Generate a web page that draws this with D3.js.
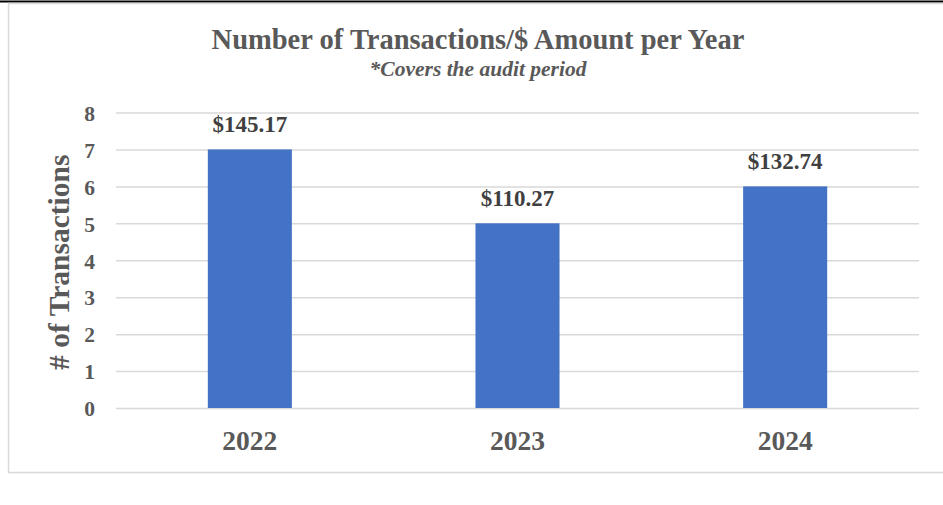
<!DOCTYPE html>
<html>
<head>
<meta charset="utf-8">
<script src="https://cdn.jsdelivr.net/npm/d3@7"></script>
<style>
  body { margin: 0; background: #fff; }
  svg { display: block; font-family: "Liberation Serif", "Times New Roman", serif; }
</style>
</head>
<body>
<div id="chart"></div>
<script>
var years = ["2022", "2023", "2024"];
var transactions = [7, 5, 6];
var amounts = ["$145.17", "$110.27", "$132.74"];
var yTicks = [0, 1, 2, 3, 4, 5, 6, 7, 8];

var width = 943, height = 505;
var margin = {top: 112.5, right: 24, bottom: 97, left: 116};
var serif = '"Liberation Serif", "Times New Roman", serif';

var svg = d3.select("#chart").append("svg")
    .attr("width", width)
    .attr("height", height);

// cropped line of page text above the chart
svg.append("line")
    .attr("x1", 0).attr("x2", width)
    .attr("y1", 1.5).attr("y2", 1.5)
    .attr("stroke", "#000")
    .attr("stroke-width", 2);

// chart frame
svg.append("rect")
    .attr("x", 8.5).attr("y", 3.5)
    .attr("width", width)
    .attr("height", 469)
    .attr("fill", "none")
    .attr("stroke", "#d9d9d9")
    .attr("stroke-width", 1.5);

var x = d3.scaleBand()
    .domain(years)
    .range([margin.left, width - margin.right])
    .paddingInner(0.686)
    .paddingOuter(0.343);

var y = d3.scaleLinear()
    .domain([0, 8])
    .range([height - margin.bottom, margin.top]);

// gridlines + tick labels
var yAxis = d3.axisLeft(y)
    .tickValues(yTicks)
    .tickSize(-(width - margin.right - margin.left))
    .tickFormat(d => d)
    .tickPadding(21);

var gy = svg.append("g")
    .attr("class", "axis yAxis")
    .attr("transform", `translate(${margin.left}, 0)`)
    .call(yAxis)
    .attr("font-family", serif);

gy.select(".domain").remove();
gy.selectAll(".tick line")
    .attr("stroke", "#d9d9d9")
    .attr("stroke-width", 1.5);
gy.selectAll(".tick text")
    .attr("fill", "#595959")
    .style("font-size", "21.5px")
    .style("font-weight", "bold")
    .attr("dy", "0.36em");

// bars
svg.selectAll("rect.bar")
    .data(years)
    .enter()
    .append("rect")
    .attr("class", "bar")
    .attr("x", d => x(d))
    .attr("width", x.bandwidth())
    .attr("y", (d, i) => y(transactions[i]))
    .attr("height", (d, i) => y(0) - y(transactions[i]))
    .style("fill", "#4472c4");

// value labels
svg.selectAll("text.valueLabel")
    .data(years)
    .enter()
    .append("text")
    .attr("class", "valueLabel")
    .attr("x", d => x(d) + x.bandwidth() / 2)
    .attr("y", (d, i) => y(transactions[i]) - 17)
    .style("text-anchor", "middle")
    .style("font-size", "23px")
    .style("font-weight", "bold")
    .attr("fill", "#404040")
    .text((d, i) => amounts[i]);

// x axis labels
var xAxis = d3.axisBottom(x).tickSize(0).tickPadding(0);
var gx = svg.append("g")
    .attr("class", "axis xAxis")
    .attr("transform", `translate(0, ${y(0)})`)
    .call(xAxis)
    .attr("font-family", serif);
gx.select(".domain").remove();
gx.selectAll(".tick text")
    .attr("y", 42)
    .attr("dy", 0)
    .attr("fill", "#595959")
    .style("font-size", "27.5px")
    .style("font-weight", "bold");

// axis title
svg.append("text")
    .attr("transform", `translate(69, ${(y(0) + y(8)) / 2 + 2}) rotate(-90)`)
    .style("text-anchor", "middle")
    .style("font-size", "29.5px")
    .style("font-weight", "bold")
    .attr("fill", "#595959")
    .text("# of Transactions");

// titles
svg.append("text")
    .attr("x", 478).attr("y", 49)
    .style("text-anchor", "middle")
    .style("font-size", "28.5px")
    .style("font-weight", "bold")
    .attr("fill", "#595959")
    .text("Number of Transactions/$ Amount per Year");

svg.append("text")
    .attr("x", 478).attr("y", 76)
    .style("text-anchor", "middle")
    .style("font-size", "21.5px")
    .style("font-weight", "bold")
    .style("font-style", "italic")
    .attr("fill", "#595959")
    .text("*Covers the audit period");
</script>
</body>
</html>
